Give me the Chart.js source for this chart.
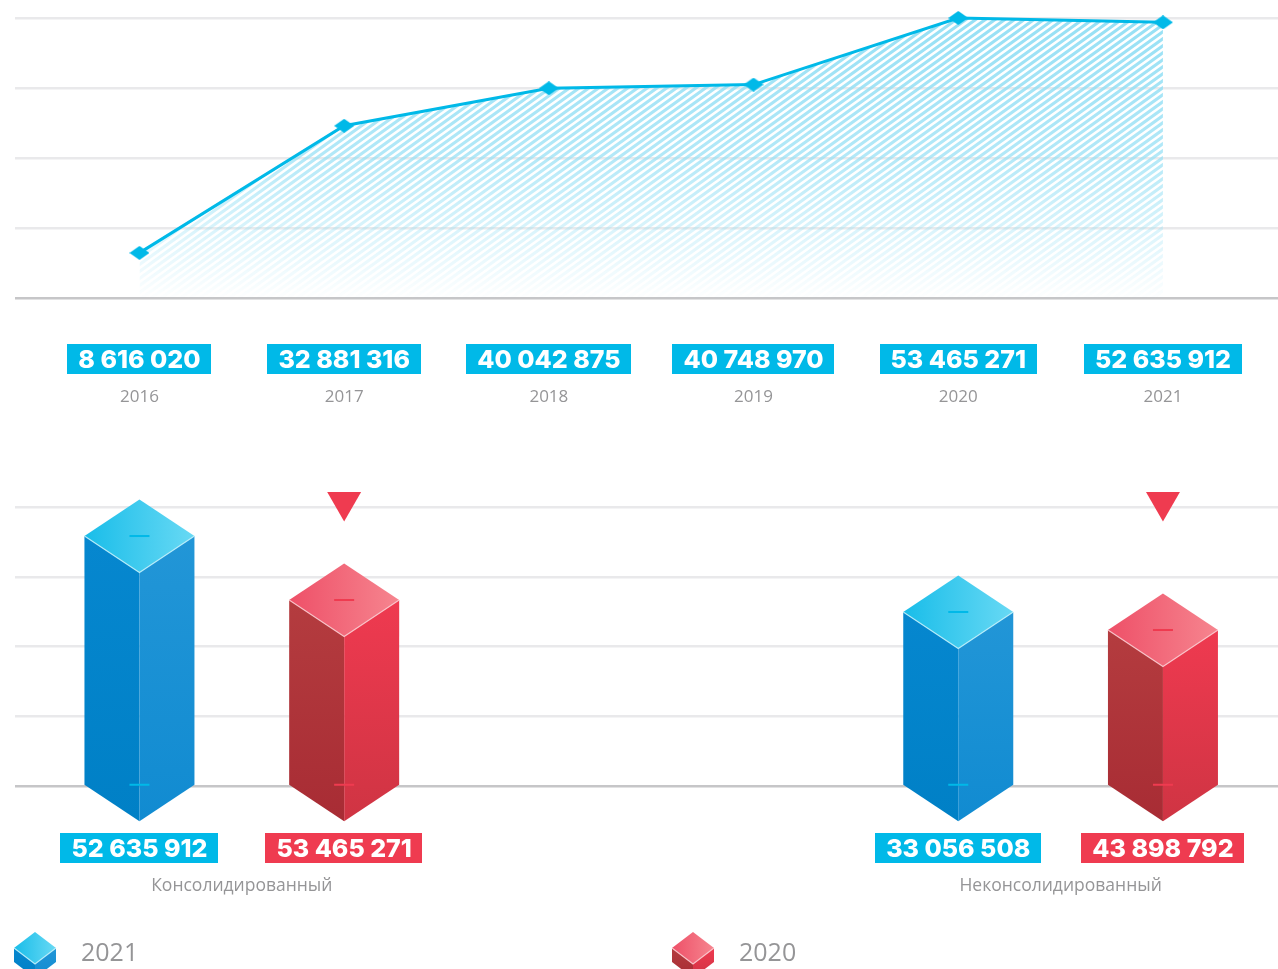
<!DOCTYPE html>
<html lang="ru">
<head>
<meta charset="utf-8">
<title>Chart</title>
<script src="https://cdn.jsdelivr.net/npm/chart.js@4"></script>
<style>
    html, body { margin: 0; padding: 0; background: #fff; overflow: hidden; }
    canvas { position: absolute; left: 0; }
    #chart-line { top: 0; }
    #chart-bars { top: 420px; }
</style>
</head>
<body>
<canvas id="chart-line" width="1278" height="420"></canvas>
<canvas id="chart-bars" width="1278" height="549"></canvas>
<script>
/* global Chart */

// Top chart
const years = [2016, 2017, 2018, 2019, 2020, 2021];
const lineValues = [8616020, 32881316, 40042875, 40748970, 53465271, 52635912];

// Bottom chart: the printed figures
const groupLabels = ['Консолидированный', 'Неконсолидированный'];
const printed2021 = [52635912, 33056508];
const printed2020 = [53465271, 43898792];

// Bottom chart: bar heights as drawn in the picture (not proportional to the printed figures)
const drawn2021 = [53.76, 37.42];
const drawn2020 = [40.0, 33.55];
const barTicks = [0, 15, 30, 45, 60];
const markerValues = [61.1, 61.1];

// Slots on the shared x axis
const slots2021 = [0, 4];
const slots2020 = [1, 5];
const groupSlots = [0.5, 4.5];

const BLUE = '#00b9e8';
const RED = '#ef3b50';
const GREY_TEXT = '#959597';
const GRID = '#e9e9eb';
const BASELINE = '#c6c6c8';

const bluePrism = {
    left: ['#0687cf', '#0080c6'],
    right: ['#2296d7', '#118bd1'],
    top: ['#19bde9', '#68d9f4'],
    edge: 'rgba(190, 238, 250, 0.9)',
    dash: BLUE
};
const redPrism = {
    left: ['#b43c3f', '#a82c34'],
    right: ['#ef3a50', '#cf3443'],
    top: ['#ee5068', '#f6858f'],
    edge: 'rgba(250, 200, 205, 0.9)',
    dash: RED
};

const formatNumber = (value) => String(value).replace(/\B(?=(\d{3})+$)/g, ' ');

/**
 * Draw one value box with white bold text
 *
 * @param {CanvasRenderingContext2D} ctx The context
 * @param {number} x Box center
 * @param {number} top Box top
 * @param {string} text The text
 * @param {string} color Box color
 */
const drawValueBox = (ctx, x, top, text, color) => {
    ctx.save();
    ctx.font = '800 25px Inter, sans-serif';
    const width = ctx.measureText(text).width + 22;
    ctx.fillStyle = color;
    ctx.fillRect(Math.round(x - width / 2), top, Math.round(width), 30);
    ctx.fillStyle = '#fff';
    ctx.textAlign = 'center';
    ctx.textBaseline = 'middle';
    ctx.fillText(text, x, top + 16);
    ctx.restore();
};

/**
 * Draw an isometric prism
 *
 * @param {CanvasRenderingContext2D} ctx The context
 * @param {number} x Center
 * @param {number} topY Center of the top face
 * @param {number} baseY Center of the bottom face
 * @param {number} hw Half width
 * @param {number} hh Half height of the top face
 * @param {object} look Colors
 */
const drawPrism = (ctx, x, topY, baseY, hw, hh, look) => {
    const face = (points, fill) => {
        ctx.beginPath();
        points.forEach(([px, py], i) => (i ? ctx.lineTo(px, py) : ctx.moveTo(px, py)));
        ctx.closePath();
        ctx.fillStyle = fill;
        ctx.fill();
    };
    const vertical = (colors) => {
        const g = ctx.createLinearGradient(0, topY, 0, baseY + hh);
        g.addColorStop(0, colors[0]);
        g.addColorStop(1, colors[1]);
        return g;
    };
    const across = ctx.createLinearGradient(x - hw, topY, x + hw, topY);
    across.addColorStop(0, look.top[0]);
    across.addColorStop(1, look.top[1]);

    ctx.save();
    face([[x - hw, topY], [x, topY + hh], [x, baseY + hh], [x - hw, baseY]], vertical(look.left));
    face([[x + hw, topY], [x, topY + hh], [x, baseY + hh], [x + hw, baseY]], vertical(look.right));
    face([[x, topY - hh], [x + hw, topY], [x, topY + hh], [x - hw, topY]], across);

    ctx.strokeStyle = look.edge;
    ctx.lineWidth = 1.2;
    ctx.beginPath();
    ctx.moveTo(x - hw, topY);
    ctx.lineTo(x, topY + hh);
    ctx.lineTo(x + hw, topY);
    ctx.stroke();
    ctx.restore();
};

const drawDash = (ctx, x, y, color) => {
    ctx.fillStyle = color;
    ctx.fillRect(x - 10, y - 1, 20, 2);
};

/**
 * Diagonal stripes fading out downwards, used as the area fill of the line
 */
const makeHatch = (width, height, top, bottom) => {
    const off = document.createElement('canvas');
    off.width = width;
    off.height = height;
    const c = off.getContext('2d');
    c.strokeStyle = '#96e0f5';
    c.lineWidth = 3.1;
    for (let y = -1000; y < height + 1000; y += 7) {
        c.beginPath();
        c.moveTo(0, y);
        c.lineTo(width, y - width * 0.72);
        c.stroke();
    }
    c.globalCompositeOperation = 'destination-in';
    const fade = c.createLinearGradient(0, top, 0, bottom);
    fade.addColorStop(0, 'rgba(0,0,0,1)');
    fade.addColorStop(0.5, 'rgba(0,0,0,0.72)');
    fade.addColorStop(1, 'rgba(0,0,0,0.02)');
    c.fillStyle = fade;
    c.fillRect(0, 0, width, height);
    return c.createPattern(off, 'no-repeat');
};

const makeDiamond = () => {
    const off = document.createElement('canvas');
    off.width = 20;
    off.height = 14;
    const c = off.getContext('2d');
    c.fillStyle = BLUE;
    c.beginPath();
    c.moveTo(0, 7);
    c.lineTo(10, 0);
    c.lineTo(20, 7);
    c.lineTo(10, 14);
    c.closePath();
    c.fill();
    return off;
};

const xAxis = (ticks, label, bottomSpace, padding, fontSize) => ({
    type: 'linear',
    bounds: 'data',
    offset: false,
    min: ticks.min,
    max: ticks.max,
    afterBuildTicks: (scale) => {
        scale.ticks = ticks.values.map((value) => ({ value }));
    },
    afterFit: (scale) => {
        scale.height = bottomSpace;
    },
    border: { display: false },
    grid: { display: false },
    ticks: {
        autoSkip: false,
        maxRotation: 0,
        padding,
        color: GREY_TEXT,
        font: { family: '"Open Sans", sans-serif', size: fontSize },
        callback: label
    }
});

const yAxis = (max, values) => ({
    type: 'linear',
    bounds: 'data',
    min: 0,
    max,
    afterBuildTicks: (scale) => {
        scale.ticks = values.map((value) => ({ value }));
    },
    afterFit: (scale) => {
        scale.width = 0;
    },
    border: { display: false },
    grid: {
        drawTicks: false,
        lineWidth: 2.5,
        color: (context) => (context.tick.value === 0 ? BASELINE : GRID)
    },
    ticks: { display: false }
});

const baseOptions = (topSpace) => ({
    responsive: false,
    animation: false,
    layout: { autoPadding: false, padding: { left: 15, right: 0, top: topSpace, bottom: 0 } },
    plugins: { legend: { display: false }, tooltip: { enabled: false } }
});

const lineBoxesPlugin = {
    id: 'lineBoxes',
    afterDraw: (chart) => {
        const scale = chart.scales.x;
        lineValues.forEach((value, i) => {
            drawValueBox(chart.ctx, scale.getPixelForValue(years[i]), 344, formatNumber(value), BLUE);
        });
    }
};

const prismsPlugin = {
    id: 'prisms',
    beforeDatasetsDraw: (chart) => {
        const ctx = chart.ctx;
        const looks = [bluePrism, redPrism];
        const printed = [printed2021, printed2020];
        [0, 1].forEach((index) => {
            chart.getDatasetMeta(index).data.forEach((bar, i) => {
                drawPrism(ctx, bar.x, bar.y, bar.base, 55, 36.5, looks[index]);
                drawDash(ctx, bar.x, bar.y, looks[index].dash);
                drawDash(ctx, bar.x, bar.base, looks[index].dash);
                drawValueBox(ctx, bar.x, 413, formatNumber(printed[index][i]), looks[index].dash);
            });
        });

        // Legend
        [[35, 81], [693, 739]].forEach(([iconX, textX], index) => {
            drawPrism(ctx, iconX, 528, 542, 21, 16, looks[index]);
            ctx.save();
            ctx.fillStyle = GREY_TEXT;
            ctx.font = '25px "Open Sans", sans-serif';
            ctx.textBaseline = 'middle';
            ctx.fillText(chart.data.datasets[index].label, textX, 534);
            ctx.restore();
        });
    }
};

const drawLineChart = () => {
    const element = document.getElementById('chart-line');
    const yMax = lineValues[4];
    const options = baseOptions(18);
    options.scales = {
        x: xAxis({ min: 2015.392, max: 2021.562, values: years }, (value) => String(value), 122, 81, 17),
        y: yAxis(yMax, [0, yMax / 4, yMax / 2, yMax * 3 / 4, yMax])
    };
    return new Chart(element, {
        type: 'line',
        data: {
            datasets: [{
                data: years.map((year, i) => ({ x: year, y: lineValues[i] })),
                borderColor: BLUE,
                borderWidth: 3,
                tension: 0,
                clip: false,
                fill: 'origin',
                backgroundColor: makeHatch(element.width, element.height, 18, 296),
                pointStyle: makeDiamond(),
                pointRadius: 7
            }]
        },
        options,
        plugins: [lineBoxesPlugin]
    });
};

const drawBarChart = () => {
    const element = document.getElementById('chart-bars');
    const options = baseOptions(87);
    options.scales = {
        x: xAxis({ min: -0.608, max: 5.562, values: groupSlots }, (value) => groupLabels[groupSlots.indexOf(value)], 183, 82, 17.5),
        y: yAxis(60, barTicks)
    };
    const barDataset = (label, slots, values) => ({
        label,
        data: slots.map((slot, i) => ({ x: slot, y: values[i] })),
        backgroundColor: 'rgba(0, 0, 0, 0)',
        barThickness: 110,
        grouped: false
    });
    return new Chart(element, {
        type: 'bar',
        data: {
            datasets: [
                barDataset('2021', slots2021, drawn2021),
                barDataset('2020', slots2020, drawn2020),
                {
                    type: 'scatter',
                    data: slots2020.map((slot, i) => ({ x: slot, y: markerValues[i] })),
                    clip: false,
                    pointStyle: 'triangle',
                    rotation: 180,
                    pointRadius: 19.6,
                    backgroundColor: RED,
                    borderWidth: 0
                }
            ]
        },
        options,
        plugins: [prismsPlugin]
    });
};

drawLineChart();
drawBarChart();
</script>
</body>
</html>
